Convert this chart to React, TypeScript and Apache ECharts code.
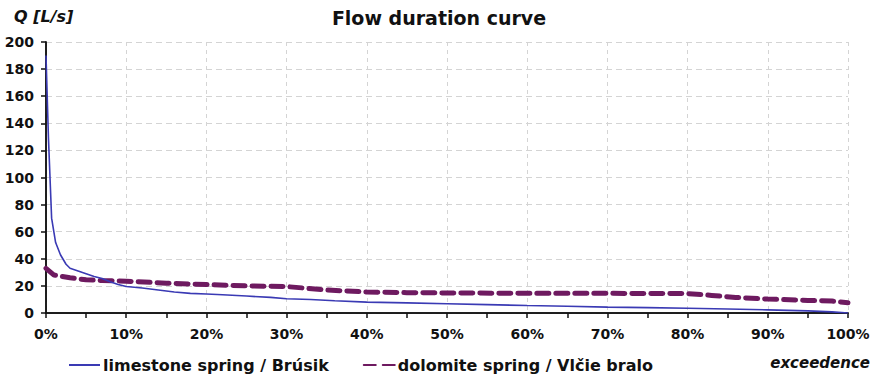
import React, { useEffect, useRef } from "react";
import * as echarts from "echarts";

const title = "Flow duration curve";
const yAxisName = "Q [L/s]";
const xAxisName = "exceedence";
const seriesNames = ["limestone spring / Brúsik", "dolomite spring / Vlčie bralo"];

// exceedence (%) and discharge (L/s)
const limestoneX = [0, 0.3, 0.7, 1.2, 1.8, 2.5, 3, 4, 5, 6, 7, 8, 9, 10, 12, 14, 16, 18, 20, 22, 25, 28, 30, 33, 36, 40, 45, 50, 55, 60, 65, 70, 75, 80, 85, 90, 95, 98, 100];
const limestoneQ = [190, 130, 70, 52, 43, 36, 33, 31, 29, 27, 25.5, 23, 21, 19.5, 18.5, 17, 15.5, 14.5, 14, 13.5, 12.5, 11.5, 10.5, 10, 9, 8, 7.5, 6.8, 6.2, 5.5, 5, 4.3, 4, 3.5, 3, 2.3, 1.6, 0.8, 0];

const dolomiteX = [0, 1, 3, 5, 7, 10, 15, 20, 25, 30, 35, 40, 45, 50, 60, 70, 80, 83, 86, 90, 95, 98, 100];
const dolomiteQ = [33, 28, 26, 24.5, 24, 23.5, 22, 21, 20, 19.5, 17, 15.5, 15, 14.8, 14.5, 14.5, 14.3, 13, 11.5, 10.3, 9.3, 8.8, 7.5];

const FONT = "'DejaVu Sans', Verdana, sans-serif";

export default function App() {
  const ref = useRef<HTMLDivElement>(null);
  useEffect(() => {
    if (!ref.current) return;
    const chart = echarts.init(ref.current, null, { renderer: "svg" });
    const pair = (xs: number[], ys: number[]) => xs.map((x, i) => [x, ys[i]]);
    const frameAxis = {
      show: true,
      axisLine: { show: true, lineStyle: { color: "#111", width: 1.5 } },
      axisTick: { show: false },
      axisLabel: { show: false },
      splitLine: { show: false },
    };
    chart.setOption({
      animation: false,
      backgroundColor: "#fff",
      title: {
        text: title,
        left: "center",
        top: 3,
        textStyle: { fontFamily: FONT, fontWeight: "bold", fontSize: 19, color: "#111" },
      },
      grid: { left: 46, right: 30, top: 42, bottom: 64 },
      legend: {
        left: 68,
        top: 357,
        padding: 0,
        itemWidth: 31,
        itemHeight: 14,
        itemGap: 34,
        itemStyle: { opacity: 0 },
        textStyle: { fontFamily: FONT, fontWeight: "bold", fontSize: 16, color: "#111", padding: [0, 0, 0, -2] },
        data: seriesNames,
      },
      xAxis: [
        {
          type: "value",
          min: 0,
          max: 100,
          interval: 10,
          name: xAxisName,
          nameLocation: "end",
          nameGap: 22,
          nameTextStyle: {
            fontFamily: FONT, fontWeight: "bold", fontStyle: "italic", fontSize: 15, color: "#111",
            align: "right", verticalAlign: "top", padding: [42, 0, 0, 0],
          },
          axisLine: { show: true, lineStyle: { color: "#111", width: 1.5 } },
          axisTick: { show: true, length: 5, lineStyle: { color: "#111", width: 1.5 } },
          minorTick: { show: true, splitNumber: 2, length: 5, lineStyle: { color: "#111", width: 1.5 } },
          axisLabel: {
            fontFamily: FONT, fontWeight: "bold", fontSize: 14, color: "#111", margin: 14,
            formatter: (v: number) => v + "%",
          },
          splitLine: { show: true, lineStyle: { color: "#d4d4d4", type: [4, 4], width: 1 } },
        },
        { ...frameAxis, type: "value", position: "top", min: 0, max: 100 },
      ],
      yAxis: [
        {
          type: "value",
          min: 0,
          max: 200,
          interval: 20,
          name: yAxisName,
          nameLocation: "end",
          nameGap: 18,
          nameTextStyle: {
            fontFamily: FONT, fontWeight: "bold", fontStyle: "italic", fontSize: 16, color: "#111",
            align: "left", padding: [0, 0, 0, -32],
          },
          axisLine: { show: true, lineStyle: { color: "#111", width: 1.5 } },
          axisTick: { show: true, length: 5, lineStyle: { color: "#111", width: 1.5 } },
          axisLabel: { fontFamily: FONT, fontWeight: "bold", fontSize: 14, color: "#111", margin: 12 },
          splitLine: { show: true, lineStyle: { color: "#d4d4d4", type: [6, 4], width: 1 } },
        },
        { ...frameAxis, type: "value", position: "right", min: 0, max: 200 },
      ],
      series: [
        {
          name: seriesNames[0],
          type: "line",
          data: pair(limestoneX, limestoneQ),
          showSymbol: false,
          symbol: "none",
          color: "#3a3ab4",
          lineStyle: { color: "#3a3ab4", width: 1.6 },
          z: 3,
        },
        {
          name: seriesNames[1],
          type: "line",
          data: pair(dolomiteX, dolomiteQ),
          showSymbol: false,
          symbol: "none",
          color: "#6e1a60",
          lineStyle: { color: "#6e1a60", width: 5, type: [12, 7], cap: "round" },
          z: 2,
        },
      ],
    });
    return () => chart.dispose();
  }, []);
  return <div ref={ref} style={{ position: "fixed", left: 0, top: 0, width: 878, height: 377 }} />;
}
